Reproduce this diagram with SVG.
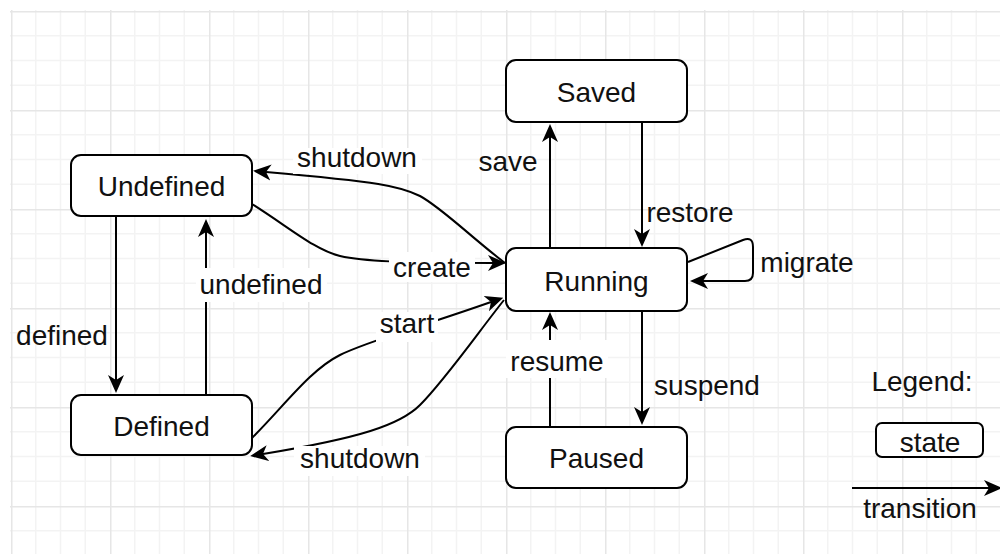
<svg xmlns="http://www.w3.org/2000/svg" width="1000" height="554" viewBox="0 0 1000 554">
  <style>
    .node rect { fill: #ffffff; stroke: #000000; stroke-width: 2; }
    .node text, .label, .legend-text { font-family: "Liberation Sans", Arial, Helvetica, sans-serif; font-size: 28px; fill: #111111; text-anchor: middle; }
    .edge { fill: none; stroke: #000000; stroke-width: 2; marker-end: url(#arrow); }
    .label-bg { fill: #ffffff; }
    .grid-minor { stroke: #f3f3f3; stroke-width: 1.5; }
    .grid-major { stroke: #e6e6e6; stroke-width: 1.5; }
  </style>
  <defs>
    <!-- classic notched arrowhead; path end sits at the notch -->
    <marker id="arrow" markerUnits="userSpaceOnUse" viewBox="0 0 18 18" markerWidth="18" markerHeight="18" refX="5" refY="9" orient="auto">
      <path d="M18,9 L0,1 L5,9 L0,17 Z" fill="#000000"/>
    </marker>
    <pattern id="grid" patternUnits="userSpaceOnUse" x="11" y="11" width="99" height="99">
      <line class="grid-minor" x1="24.75" y1="0" x2="24.75" y2="99"/>
      <line class="grid-minor" x1="49.5" y1="0" x2="49.5" y2="99"/>
      <line class="grid-minor" x1="74.25" y1="0" x2="74.25" y2="99"/>
      <line class="grid-minor" x1="0" y1="24.75" x2="99" y2="24.75"/>
      <line class="grid-minor" x1="0" y1="49.5" x2="99" y2="49.5"/>
      <line class="grid-minor" x1="0" y1="74.25" x2="99" y2="74.25"/>
      <line class="grid-major" x1="0.75" y1="0" x2="0.75" y2="99"/>
      <line class="grid-major" x1="0" y1="0.75" x2="99" y2="0.75"/>
    </pattern>
  </defs>

  <rect x="0" y="0" width="1000" height="554" fill="#ffffff"/>
  <rect x="10" y="10" width="990" height="544" fill="url(#grid)"/>

  <!-- transitions -->
  <g id="connectors">
    <path id="e-defined" class="edge" d="M116 216 L116 380"/>
    <path id="e-undefined" class="edge" d="M206 395 L206 232"/>
    <path id="e-shutdown-undefined" class="edge" d="M505 263 C472 238 442 208 420 196 C400 186 380 182 266 172"/>
    <path id="e-create" class="edge" d="M252 204 C290 228 315 250 340 256 C362 261 400 263 493 263"/>
    <path id="e-start" class="edge" d="M252 438 C285 405 310 370 340 355 C365 342 420 327 491 302"/>
    <path id="e-shutdown-defined" class="edge" d="M504 300 C480 330 445 380 420 405 C400 425 360 438 263 454"/>
    <path id="e-save" class="edge" d="M550 249 L550 137"/>
    <path id="e-restore" class="edge" d="M642 122 L642 234"/>
    <path id="e-migrate" class="edge" d="M688 262 L743 240 Q753 236 753 247 L753 273 Q753 281 745 281 L703 281"/>
    <path id="e-suspend" class="edge" d="M642 311 L642 412"/>
    <path id="e-resume" class="edge" d="M550 427 L550 325"/>
  </g>

  <!-- transition labels -->
  <g id="edge-labels">
    <rect class="label-bg" x="293" y="148" width="129" height="26"/>
    <text class="label" x="357" y="167">shutdown</text>
    <rect class="label-bg" x="389" y="252" width="86" height="30"/>
    <text class="label" x="432" y="277">create</text>
    <rect class="label-bg" x="196" y="268" width="131" height="34"/>
    <text class="label" x="261" y="294">undefined</text>
    <text class="label" x="62" y="345">defined</text>
    <rect class="label-bg" x="376" y="312" width="62" height="30"/>
    <text class="label" x="407" y="333">start</text>
    <rect class="label-bg" x="294" y="446" width="131" height="30"/>
    <text class="label" x="360" y="468">shutdown</text>
    <text class="label" x="508" y="171">save</text>
    <text class="label" x="690" y="222">restore</text>
    <text class="label" x="807" y="272">migrate</text>
    <text class="label" x="707" y="395">suspend</text>
    <rect class="label-bg" x="506" y="340" width="102" height="38"/>
    <text class="label" x="557" y="371">resume</text>
  </g>

  <!-- states -->
  <g id="node-undefined" class="node">
    <rect x="71" y="155" width="181" height="61" rx="10"/>
    <text x="161.5" y="196">Undefined</text>
  </g>
  <g id="node-defined" class="node">
    <rect x="71" y="395" width="181" height="60" rx="10"/>
    <text x="161.5" y="436">Defined</text>
  </g>
  <g id="node-saved" class="node">
    <rect x="506" y="60" width="181" height="62" rx="10"/>
    <text x="596.5" y="102">Saved</text>
  </g>
  <g id="node-running" class="node">
    <rect x="506" y="248" width="181" height="63" rx="10"/>
    <text x="596.5" y="291">Running</text>
  </g>
  <g id="node-paused" class="node">
    <rect x="506" y="427" width="181" height="61" rx="10"/>
    <text x="596.5" y="468">Paused</text>
  </g>

  <!-- legend -->
  <g id="legend">
    <text class="legend-text" x="922" y="391">Legend:</text>
    <g id="legend-state" class="node">
      <rect x="876" y="423" width="107" height="34" rx="6"/>
      <text x="930" y="452">state</text>
    </g>
    <path id="legend-transition" class="edge" d="M852 488 L989 488"/>
    <text class="legend-text" x="920" y="518">transition</text>
  </g>
</svg>
